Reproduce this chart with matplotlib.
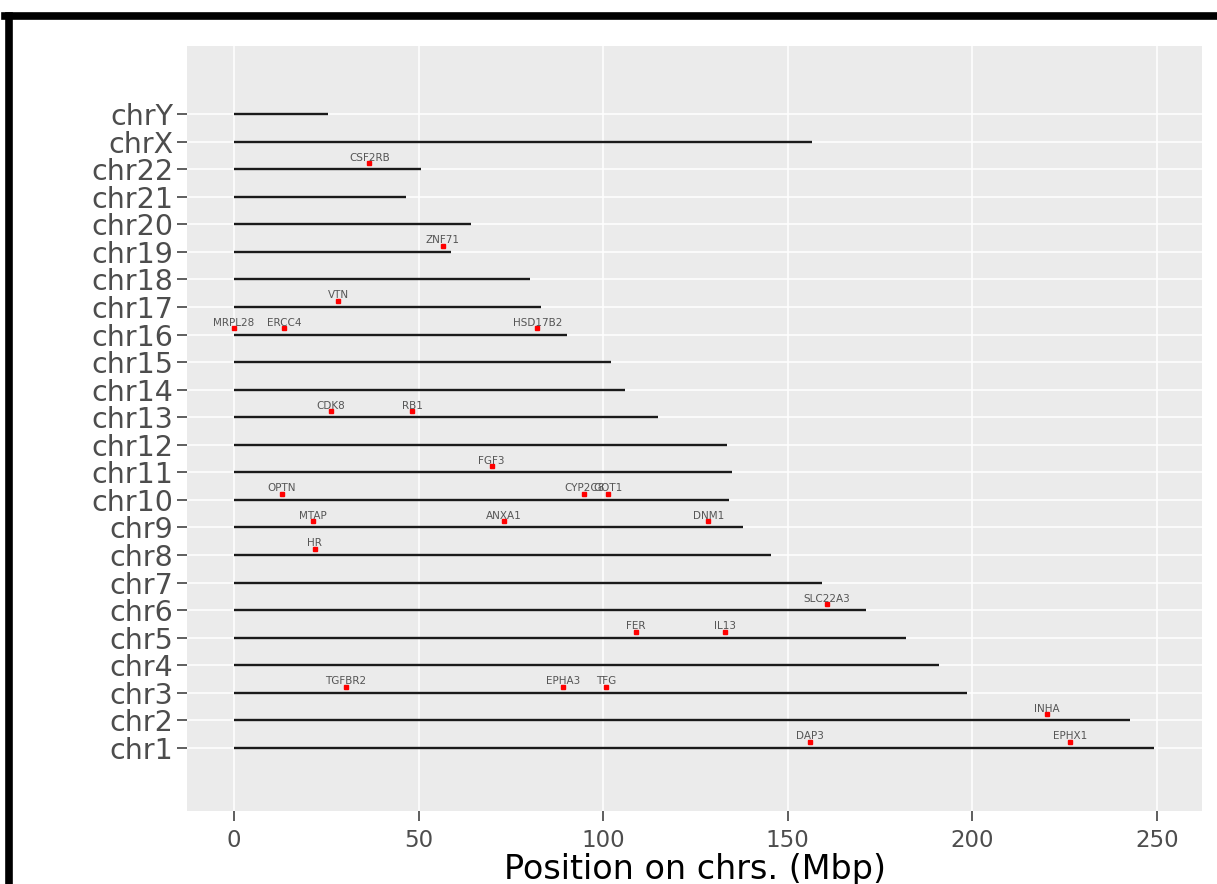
import numpy as np
import matplotlib
matplotlib.use('Agg')
from matplotlib import pyplot as plt
from matplotlib.lines import Line2D

# 染色体名称和长度 (Mbp)
chrom_names = ['chr1', 'chr2', 'chr3', 'chr4', 'chr5', 'chr6', 'chr7', 'chr8',
               'chr9', 'chr10', 'chr11', 'chr12', 'chr13', 'chr14', 'chr15',
               'chr16', 'chr17', 'chr18', 'chr19', 'chr20', 'chr21', 'chr22',
               'chrX', 'chrY']
chrom_lengths = [249.3, 242.8, 198.5, 191.0, 181.9, 171.1, 159.4, 145.4,
                 138.0, 134.2, 134.9, 133.5, 114.8, 105.9, 102.2,
                 90.2, 83.2, 80.2, 58.8, 64.2, 46.6, 50.6,
                 156.5, 25.5]

# 基因名称、所在染色体和位置 (Mbp)
gene_names = ['CSF2RB', 'ZNF71', 'VTN', 'MRPL28', 'ERCC4', 'HSD17B2',
              'CDK8', 'RB1', 'FGF3', 'OPTN', 'CYP2C8', 'GOT1',
              'MTAP', 'ANXA1', 'DNM1', 'HR', 'SLC22A3', 'FER', 'IL13',
              'TGFBR2', 'EPHA3', 'TFG', 'INHA', 'DAP3', 'EPHX1']
gene_chroms = ['chr22', 'chr19', 'chr17', 'chr16', 'chr16', 'chr16',
               'chr13', 'chr13', 'chr11', 'chr10', 'chr10', 'chr10',
               'chr9', 'chr9', 'chr9', 'chr8', 'chr6', 'chr5', 'chr5',
               'chr3', 'chr3', 'chr3', 'chr2', 'chr1', 'chr1']
gene_pos = [36.7, 56.5, 28.3, 0.0, 13.6, 82.2,
            26.2, 48.3, 69.8, 13.0, 94.9, 101.4,
            21.3, 73.1, 128.5, 21.9, 160.6, 108.9, 133.0,
            30.3, 89.2, 100.8, 220.1, 156.0, 226.4]

fig = plt.figure(figsize=(12.17, 8.84), dpi=100)
ax = fig.add_axes([187 / 1217, 1 - 811 / 884, 1015 / 1217, 765 / 884])
ax.set_facecolor('#EBEBEB')

y_idx = np.arange(len(chrom_names))
# 染色体横线
ax.hlines(y_idx, 0, chrom_lengths, color='#1a1a1a', linewidth=1.7, zorder=3)

# 基因点和标签
for name, ch, pos in zip(gene_names, gene_chroms, gene_pos):
    y = chrom_names.index(ch)
    ax.plot(pos, y + 0.22, 's', color='red', markersize=2.3, zorder=4)
    ax.text(pos, y + 0.42, name, fontsize=7.5, color='#555555',
            ha='center', va='center', zorder=5)

ax.set_xlim(-12.7, 262.2)
ax.set_ylim(-2.29, 25.47)
ax.set_yticks(y_idx)
ax.set_yticklabels(chrom_names)
ax.set_xticks([0, 50, 100, 150, 200, 250])
ax.grid(color='white', linewidth=1.1, zorder=0)
ax.set_axisbelow(True)
for s in ax.spines.values():
    s.set_visible(False)
ax.tick_params(axis='y', labelsize=20.5, colors='#333333', labelcolor='#4d4d4d',
               length=7, width=1.1, pad=3)
ax.tick_params(axis='x', labelsize=16.5, colors='#333333', labelcolor='#4d4d4d',
               length=7, width=1.1, pad=6)
ax.set_xlabel('Position on chrs. (Mbp)', fontsize=24, labelpad=1)

# 外面的黑框
fig.add_artist(Line2D([8.5 / 1217, 8.5 / 1217], [-0.1, 1 - 15.5 / 884],
                      transform=fig.transFigure, color='black', linewidth=5.5))
fig.add_artist(Line2D([5 / 1217, 1.1], [1 - 15.5 / 884, 1 - 15.5 / 884],
                      transform=fig.transFigure, color='black', linewidth=5.5))

plt.savefig('out.png', dpi=100)
